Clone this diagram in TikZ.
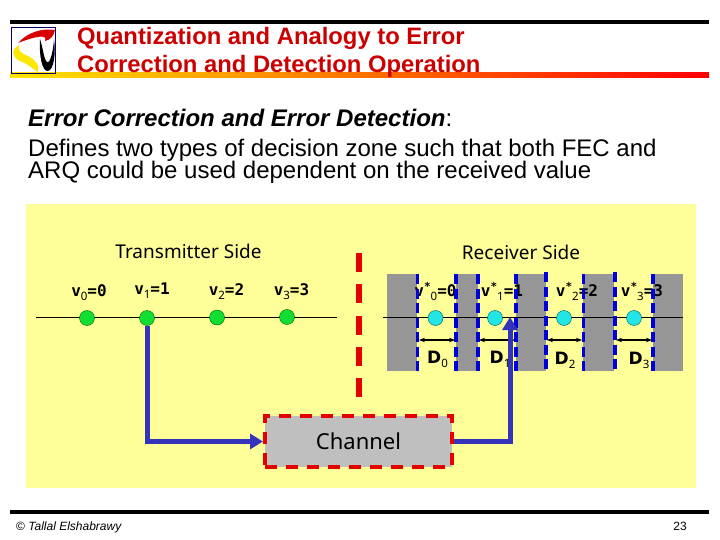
\documentclass[tikz,border=0pt]{standalone}
\usepackage{fontspec}
\setmainfont{Liberation Sans}
\newfontfamily\labelfont{Noto Sans}
\newfontfamily\valfont{DejaVu Sans Mono}
\newfontfamily\zonefont{DejaVu Sans}
\usetikzlibrary{arrows.meta}
\definecolor{panelyellow}{HTML}{FFFF99}
\definecolor{titlered}{HTML}{CC0000}
\definecolor{linkblue}{HTML}{3333BB}
\definecolor{zonegray}{HTML}{969696}
\definecolor{chgray}{HTML}{BFBFBF}
\definecolor{rxcyan}{HTML}{22E6E6}
\definecolor{txgreen}{HTML}{11DD33}
\newcommand{\lowsub}[1]{\raisebox{-0.25em}{\normalfont\labelfont\fontsize{11.5}{11.5}\selectfont #1}}
\newcommand{\upstar}{\raisebox{0.4em}{\fontsize{11}{11}\selectfont *}}
\tikzset{
	txnode/.style={circle,draw=green!40!black,fill=txgreen,inner sep=0pt,minimum size=15pt},
	rxnode/.style={circle,draw=teal!70!black,fill=rxcyan,inner sep=0pt,minimum size=15pt},
	zoneline/.style={draw=blue!85!black,line width=3.5pt,dash pattern=on 10pt off 4.5pt},
	linkline/.style={draw=linkblue,line width=5pt},
	widthline/.style={black,line width=1.5pt,{Stealth[length=6pt]}-{Stealth[length=6pt]}},
	titletext/.style={anchor=base west,inner sep=0pt,text=titlered,font=\bfseries\fontsize{23.8}{23.8}\selectfont},
	bodytext/.style={anchor=base west,inner sep=0pt,font=\fontsize{24}{24}\selectfont},
	sidetext/.style={anchor=base,inner sep=0pt,font=\labelfont\fontsize{19}{19}\selectfont},
	valtext/.style={anchor=base,inner sep=0pt,font=\valfont\bfseries\fontsize{16}{16}\selectfont},
	zonetext/.style={anchor=base,inner sep=0pt,font=\zonefont\bfseries\fontsize{17}{17}\selectfont},
	foottext/.style={anchor=base,inner sep=0pt,font=\fontsize{12}{12}\selectfont}
}
\begin{document}
\begin{tikzpicture}[x=1pt,y=-1pt]
	\useasboundingbox(0,0)rectangle(720,540);
	\fill[white](0,0)rectangle(720,540);
	% header
	\draw[black,line width=4pt](10,22)--(709,22);
	\shade[left color=yellow!80!orange,middle color=orange!80!yellow,right color=red](10,72.5)rectangle(709,77.5);
	\draw[blue!40!black,line width=0.4pt](11,27)rectangle(55,73);
	\fill[red!85!black](18,43)..controls(28,32)and(42,28)..(55,30)
		..controls(54,36)and(50,40)..(45,41)..controls(48,34)and(36,36)..cycle;
	\fill[yellow!90!orange](19,45)..controls(10,50)and(12,58)..(22,62)
		..controls(30,65)and(34,70)..(38,72)..controls(40,66)and(36,60)..(28,56)
		..controls(20,53)and(18,50)..cycle;
	\fill[black](40,39)..controls(39,55)and(42,72)..(48,71)
		..controls(54,70)and(56,52)..(54,40)..controls(53,52)and(50,64)..(47,62)
		..controls(44,60)and(43,48)..cycle;
	\node[titletext](titlea) at (77,44.5){Quantization and Analogy to Error};
	\node[titletext](titleb) at (77,72.5){Correction and Detection Operation};
	\node[bodytext](errhead) at (28,127){\textit{\textbf{Error Correction and Error Detection}}:};
	\node[bodytext](defa) at (28,157){Defines two types of decision zone such that both FEC and};
	\node[bodytext](defb) at (28,179){ARQ could be used dependent on the received value};
	% panel
	\fill[panelyellow](26,204)rectangle(696,488);
	\fill[zonegray](387,274)rectangle(417,371);
	\fill[zonegray](456,274)rectangle(478,371);
	\fill[zonegray](516,274)rectangle(546,371);
	\fill[zonegray](583,274)rectangle(614,371);
	\fill[zonegray](653,274)rectangle(683,371);
	\node[sidetext](txside) at (188.5,258.5){Transmitter Side};
	\node[sidetext](rxside) at (521,259.5){Receiver Side};
	\draw[red!90!black,line width=6pt,dash pattern=on 19pt off 12.3pt](358.5,253)--(358.5,398);
	% axes
	\coordinate(txa) at (36,317);
	\coordinate(txb) at (337,317);
	\coordinate(rxa) at (383,317);
	\coordinate(rxb) at (683,317);
	\draw[black,thin](txa)--(txb);
	\draw[black,thin](rxa)--(rxb);
	\node[txnode](va) at (87,318){};
	\node[txnode](vb) at (147,318){};
	\node[txnode](vc) at (217,317.5){};
	\node[txnode](vd) at (287,317){};
	\node[rxnode](ra) at (435.5,318){};
	\node[rxnode](rb) at (495,318){};
	\node[rxnode](rc) at (564,318){};
	\node[rxnode](rd) at (634,318){};
	\node[valtext](lva) at (89,296.5){v\lowsub{0}=0};
	\node[valtext](lvb) at (152,294.5){v\lowsub{1}=1};
	\node[valtext](lvc) at (226.5,295.5){v\lowsub{2}=2};
	\node[valtext](lvd) at (291.5,295.5){v\lowsub{3}=3};
	\node[valtext](lra) at (435.5,296.5){v\upstar\lowsub{0}=0};
	\node[valtext](lrb) at (502,296.5){v\upstar\lowsub{1}=1};
	\node[valtext](lrc) at (577,296.5){v\upstar\lowsub{2}=2};
	\node[valtext](lrd) at (642,296.5){v\upstar\lowsub{3}=3};
	% decision zones
	\draw[zoneline](417.5,274)--(417.5,371);
	\draw[zoneline](456,274)--(456,371);
	\draw[zoneline](478,274)--(478,371);
	\draw[zoneline](516,274)--(516,371);
	\draw[zoneline](546,272)--(546,371);
	\draw[zoneline](583.5,274)--(583.5,371);
	\draw[zoneline](615,272)--(615,371);
	\draw[zoneline](653,274)--(653,371);
	\coordinate(daw) at (419,340);
	\coordinate(dae) at (455,340);
	\coordinate(dbw) at (479,340);
	\coordinate(dbe) at (515,340);
	\coordinate(dcw) at (547,340);
	\coordinate(dce) at (582,340);
	\coordinate(ddw) at (616,340);
	\coordinate(dde) at (652,340);
	\draw[widthline](daw)--(dae);
	\draw[widthline](dbw)--(dbe);
	\draw[widthline](dcw)--(dce);
	\draw[widthline](ddw)--(dde);
	\node[zonetext](da) at (437.5,363){D\lowsub{0}};
	\node[zonetext](db) at (500,363){D\lowsub{1}};
	\node[zonetext](dc) at (565,364){D\lowsub{2}};
	\node[zonetext](dd) at (639,364){D\lowsub{3}};
	% channel
	\node[draw=red!90!black,fill=chgray,line width=4pt,dash pattern=on 12pt off 9pt,
		minimum width=187pt,minimum height=51pt,inner sep=0pt,
		font=\labelfont\fontsize{22}{22}\selectfont](channel) at (358.5,441.5){Channel};
	\coordinate(hit) at (510,317);
	\draw[linkline,-{Triangle[length=13pt,width=15pt]}](vb.south)|-(channel.west);
	\draw[linkline,-{Triangle[length=13pt,width=15pt]}](channel.east)-|(hit);
	% footer
	\draw[black,line width=3.5pt](10,512)--(709,512);
	\node[foottext,anchor=base west](author) at (16,530){\textcopyright\ \textit{Tallal Elshabrawy}};
	\node[foottext](pagenum) at (680,530){23};
\end{tikzpicture}
\end{document}
